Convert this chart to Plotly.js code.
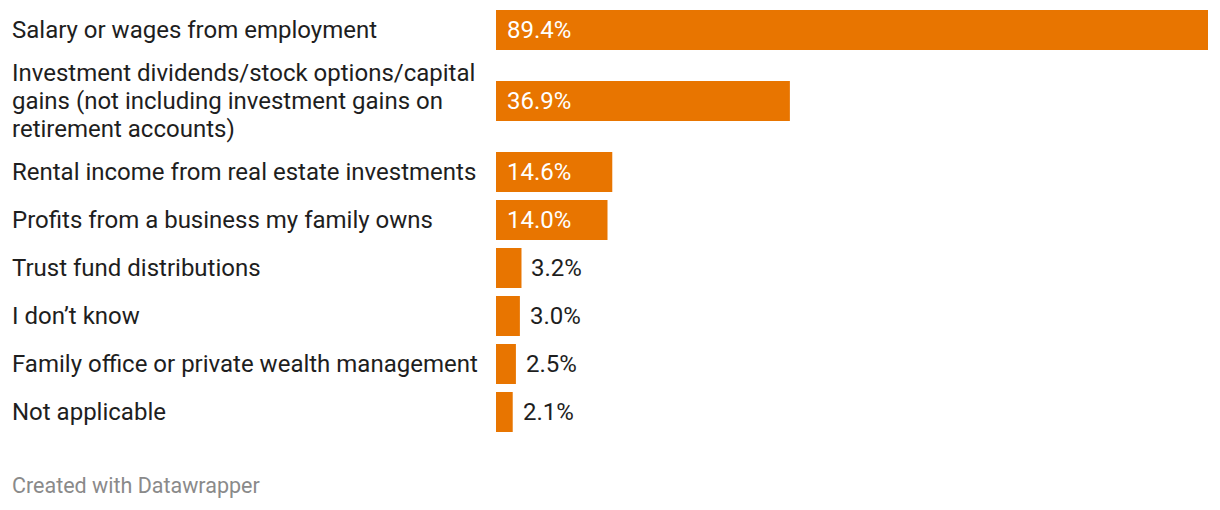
<!DOCTYPE html>
<html>
<head>
<meta charset="utf-8">
<script src="https://cdn.plot.ly/plotly-3.0.1.min.js"></script>
<style>html,body{margin:0;padding:0;background:#fff;}#chart{width:1220px;height:510px;}</style>
</head>
<body>
<div id="chart"></div>
<script>
const categories = [
  "Salary or wages from employment",
  "Investment dividends/stock options/capital<br>gains (not including investment gains on<br>retirement accounts)",
  "Rental income from real estate investments",
  "Profits from a business my family owns",
  "Trust fund distributions",
  "I don\u2019t know",
  "Family office or private wealth management",
  "Not applicable"
];
const values = [89.4, 36.9, 14.6, 14.0, 3.2, 3.0, 2.5, 2.1];
const valueLabels = ["89.4%", "36.9%", "14.6%", "14.0%", "3.2%", "3.0%", "2.5%", "2.1%"];

// layout geometry (pixels)
const W = 1220, H = 510;
const plotLeft = 496, plotRight = 1208, plotTop = 6;
const rowBase = 48, extraPerLine = 23, barPx = 40, lineH = 28;

// row centers derived from number of label lines
const centers = [];
let acc = 0;
categories.forEach(c => {
  const lines = c.split("<br>").length;
  const h = rowBase + (lines - 1) * extraPerLine;
  centers.push(acc + h / 2);
  acc += h;
});
const plotH = acc;
const plotW = plotRight - plotLeft;
const xMax = Math.max(...values);

const orange = "#e87500";
const font = "Roboto, 'Open Sans', sans-serif";
const insideThreshold = 10;
const labelX = (11 - plotLeft) / plotW;

const annotations = [];
categories.forEach((c, i) => {
  const lines = c.split("<br>");
  lines.forEach((ln, k) => {
    annotations.push({
      text: ln, xref: "paper", yref: "y", x: labelX, y: centers[i],
      yshift: -(k - (lines.length - 1) / 2) * lineH,
      xanchor: "left", yanchor: "middle", align: "left", showarrow: false, borderpad: 0,
      font: {family: font, size: 24, color: "#1e1e1e"}
    });
  });
  const inside = values[i] >= insideThreshold;
  annotations.push({
    text: valueLabels[i], xref: "x", yref: "y",
    x: inside ? 0 : values[i], y: centers[i],
    xshift: inside ? 10 : 9, borderpad: 0,
    xanchor: "left", yanchor: "middle", showarrow: false,
    font: {family: font, size: 24, color: inside ? "#ffffff" : "#1e1e1e"}
  });
});
annotations.push({
  text: "Created with Datawrapper", xref: "paper", yref: "paper",
  x: labelX, y: (plotTop + plotH - 485) / plotH, borderpad: 0,
  xanchor: "left", yanchor: "middle", showarrow: false,
  font: {family: font, size: 21.5, color: "#8a8a8a"}
});

const trace = {
  type: "bar", orientation: "h",
  x: values, y: centers, width: barPx,
  marker: {color: orange},
  hoverinfo: "none"
};

const layout = {
  width: W, height: H,
  margin: {l: plotLeft, r: W - plotRight, t: plotTop, b: H - plotTop - plotH, pad: 0},
  paper_bgcolor: "#ffffff", plot_bgcolor: "#ffffff",
  showlegend: false,
  xaxis: {range: [0, xMax], visible: false, fixedrange: true},
  yaxis: {range: [plotH, 0], visible: false, fixedrange: true},
  annotations: annotations,
  font: {family: font}
};

Plotly.newPlot("chart", [trace], layout, {displayModeBar: false, staticPlot: true});
</script>
</body>
</html>
